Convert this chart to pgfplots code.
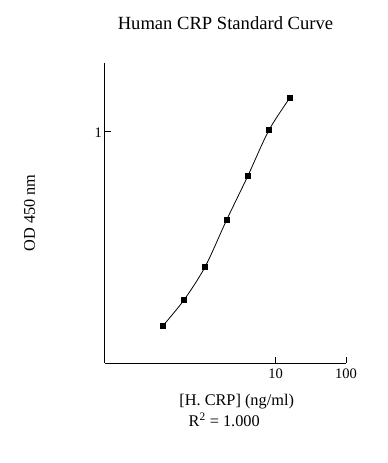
\documentclass[border=0pt]{standalone}
\usepackage{fontspec}
\setmainfont{Liberation Serif}
\usepackage{pgfplots}
\pgfplotsset{compat=1.18}
\begin{document}
\begin{tikzpicture}[x=1pt,y=1pt]
\path[use as bounding box] (-105,-100) rectangle (283,363);
\begin{axis}[
  at={(0,0)}, anchor=south west,
  scale only axis, width=241pt, height=300pt,
  xmode=log, ymode=log,
  xmin=0.0375, xmax=100, ymin=0.1, ymax=1.98,
  axis lines=left, axis line style={-, line width=1pt, black},
  tick align=inside, major tick length=6pt,
  xtick={10,100}, xticklabels={10,100},
  ytick={1}, yticklabels={1},
  xminorticks=false, yminorticks=false,
  tick style={black, line width=0.8pt},
  xticklabel style={font=\fontsize{14.5}{16}\selectfont, anchor=base, inner sep=0pt, yshift=-15.3pt},
  yticklabel style={font=\fontsize{14.5}{16}\selectfont, anchor=base east, inner sep=0pt, yshift=-6pt, xshift=-3pt},
  clip=false,
]
\addplot[black, line width=0.8pt, smooth, mark=square*, mark size=2.5pt, mark options={solid}]
  coordinates {(0.25,0.1449)(0.5,0.1876)(1,0.2615)(2,0.414)(4,0.641)(8,1.013)(16,1.402)};
\end{axis}
\node[anchor=base, font=\fontsize{18.6}{20}\selectfont, inner sep=0pt] at (120.5,333) {Human CRP Standard Curve};
\node[anchor=base, font=\fontsize{16.3}{18}\selectfont, inner sep=0pt] at (131.7,-42) {[H. CRP] (ng/ml)};
\node[anchor=base, font=\fontsize{16.3}{18}\selectfont, inner sep=0pt] at (119.2,-63.7) {R\textsuperscript{2} = 1.000};
\node[anchor=base, rotate=90, font=\fontsize{16.3}{18}\selectfont, inner sep=0pt] at (-70,150) {OD 450 nm};
\end{tikzpicture}
\end{document}
